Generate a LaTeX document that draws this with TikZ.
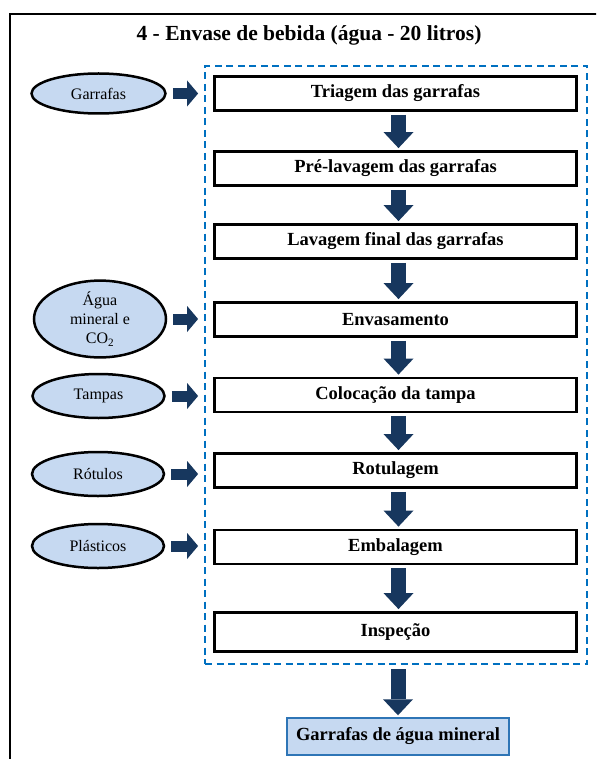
\documentclass[tikz,border=0pt]{standalone}
\usepackage{fontspec}
\setmainfont{Liberation Serif}
\usetikzlibrary{arrows.meta,shapes.geometric}
\definecolor{navy}{RGB}{23,55,94}
\definecolor{lblue}{RGB}{198,217,241}
\definecolor{dblue}{RGB}{0,112,192}
\definecolor{fblue}{RGB}{46,117,182}
\begin{document}
\begin{tikzpicture}[x=1pt,y=-1pt,
 proc/.style={draw=black, line width=2.8pt, minimum width=362pt, minimum height=34pt, inner sep=0pt, font=\bfseries\fontsize{18.5}{22}\selectfont},
 inp/.style={ellipse, draw=black, line width=2.5pt, fill=lblue, minimum width=132pt, minimum height=44pt, inner sep=0pt, font=\fontsize{16}{19}\selectfont, align=center},
 downarr/.style={draw=navy, line width=15pt, -{Triangle[width=30pt,length=16pt,line width=0pt]}, shorten <=3pt, shorten >=2pt},
 rightarr/.style={draw=navy, line width=11pt, -{Triangle[width=26pt,length=11pt,line width=0pt]}, shorten <=6pt, shorten >=15pt},
]
\clip (0,0) rectangle (596,759);
\fill[white] (0,0) rectangle (596,759);
% outer frame
\draw[line width=2.8pt] (10,790) -- (10,14) -- (630,14);
\node (title) at (309,35) {\bfseries\fontsize{21.5}{25}\selectfont 4 - Envase de bebida (água - 20 litros)};
% dashed group
\node (grp) [draw=dblue, line width=2pt, dash pattern=on 7pt off 4.5pt, minimum width=382pt, minimum height=598pt, inner sep=0pt] at (396,365) {};
% process boxes
\node (p1) [proc] at (395.5,93.5) {Triagem das garrafas};
\node (p2) [proc] at (395.5,168.5) {Pré-lavagem das garrafas};
\node (p3) [proc] at (395.5,241.5) {Lavagem final das garrafas};
\node (p4) [proc] at (395.5,319.5) {Envasamento};
\node (p5) [proc] at (395.5,395) {Colocação da tampa};
\node (p6) [proc] at (395.5,470.5) {Rotulagem};
\node (p7) [proc] at (395.5,547) {Embalagem};
\node (p8) [proc, minimum height=39pt] at (395.5,632) {Inspeção};
% inputs
\node (e1) [inp, minimum height=40pt, minimum width=134pt] at (98.5,93.5) {Garrafas};
\node (e2) [inp, minimum height=69pt] at (100,319) {Água\\mineral e\\CO\textsubscript{2}};
\node (e3) [inp] at (98.5,396) {Tampas};
\node (e4) [inp] at (98,474) {Rótulos};
\node (e5) [inp] at (98,546) {Plásticos};
% final
\node (fin) [draw=fblue, line width=1.5pt, fill=lblue, minimum width=222pt, minimum height=37pt, inner sep=0pt, font=\bfseries\fontsize{18.5}{22}\selectfont] at (398,736.5) {Garrafas de água mineral};
% down arrows
\foreach \a/\b in {p1/p2,p2/p3,p3/p4,p4/p5,p5/p6,p6/p7,p7/p8}{
  \draw[downarr] ([xshift=3pt]\a.south) -- ([xshift=3pt]\b.north);
}
\draw[downarr, shorten <=4pt] (grp.south -| fin.north) -- (fin.north);
% right arrows
\draw[rightarr] (e1.east) -- (e1.east -| p1.west);
\draw[rightarr] (e2.east) -- (e2.east -| p4.west);
\draw[rightarr] (e3.east) -- (e3.east -| p5.west);
\draw[rightarr] (e4.east) -- (e4.east -| p6.west);
\draw[rightarr] (e5.east) -- (e5.east -| p7.west);
\end{tikzpicture}
\end{document}
